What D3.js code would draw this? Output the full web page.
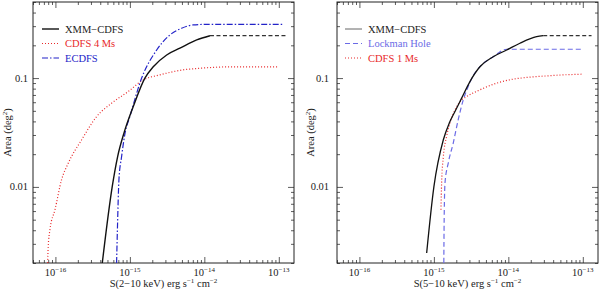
<!DOCTYPE html>
<html>
<head>
<meta charset="utf-8">
<script src="https://cdn.jsdelivr.net/npm/d3@7"></script>
<style>
  body { margin: 0; background: #fff; }
  svg { display: block; }
  text { font-family: 'Liberation Serif', serif; fill: #222; }
</style>
</head>
<body>
<div id="chart"></div>
<script>
// --- left panel: 2-10 keV ---
let xmmHardFlux = [4.26e-16, 5.8e-16, 6.85e-16, 8.3e-16, 1.11e-15, 1.59e-15, 2.06e-15, 3.12e-15, 4.7e-15, 7.9e-15, 1.19e-14];
let xmmHardArea = [0.002, 0.0101, 0.019, 0.031, 0.0547, 0.1, 0.127, 0.163, 0.188, 0.224, 0.245];
let xmmHardExtFlux = [1.19e-14, 1.32e-13];
let xmmHardExtArea = [0.245, 0.245];

let cdfs4Flux = [7.87e-17, 8.0e-17, 8.45e-17, 9.87e-17, 1.21e-16, 1.49e-16, 2.25e-16, 3.58e-16, 5.7e-16, 9.5e-16, 1.51e-15, 2.54e-15, 5.2e-15, 8.7e-15, 2.42e-14, 9.8e-14];
let cdfs4Area = [0.002, 0.00284, 0.00405, 0.00618, 0.01164, 0.01656, 0.0271, 0.0443, 0.0589, 0.0752, 0.0962, 0.107, 0.119, 0.123, 0.127, 0.127];

let ecdfsFlux = [6.63e-16, 6.8e-16, 7.13e-16, 7.74e-16, 8.6e-16, 1.0e-15, 1.44e-15, 2.29e-15, 3.45e-15, 4.95e-15, 7.1e-15, 1.19e-14, 1.13e-13];
let ecdfsArea = [0.002, 0.00405, 0.01164, 0.019, 0.031, 0.0443, 0.1, 0.181, 0.249, 0.287, 0.308, 0.312, 0.312];

// --- right panel: 5-10 keV ---
let xmmSoftFlux = [8.0e-16, 1.0e-15, 1.34e-15, 1.61e-15, 1.92e-15, 2.36e-15, 3.05e-15, 4.15e-15, 6.26e-15, 9.5e-15, 1.43e-14, 2.4e-14, 2.94e-14];
let xmmSoftArea = [0.00247, 0.01, 0.0271, 0.0386, 0.0493, 0.0654, 0.0929, 0.127, 0.157, 0.181, 0.209, 0.240, 0.245];
let xmmSoftExtFlux = [2.94e-14, 1.31e-13];
let xmmSoftExtArea = [0.245, 0.245];

let lockmanFlux = [1.36e-15, 1.37e-15, 1.41e-15, 1.56e-15, 1.82e-15, 2.12e-15, 2.48e-15, 2.89e-15, 3.24e-15, 4.15e-15, 6.26e-15, 9.5e-15, 1.01e-13];
let lockmanArea = [0.002, 0.00405, 0.01086, 0.01656, 0.0253, 0.0413, 0.063, 0.0836, 0.1, 0.127, 0.157, 0.184, 0.184];

let cdfs1Flux = [1.245e-15, 1.27e-15, 1.34e-15, 1.48e-15, 1.64e-15, 1.92e-15, 2.36e-15, 2.75e-15, 4.15e-15, 6.97e-15, 1.16e-14, 1.95e-14, 3.27e-14, 5.46e-14, 1.01e-13];
let cdfs1Area = [0.00618, 0.01086, 0.019, 0.029, 0.0386, 0.051, 0.063, 0.0676, 0.078, 0.0898, 0.0977, 0.102, 0.1047, 0.107, 0.1086];

// axes
let fluxDomain = [5e-17, 1.6e-13];
let areaDomain = [0.002, 0.5];
let fluxMajor = [1e-16, 1e-15, 1e-14, 1e-13];
let fluxMajorExp = ['−16', '−15', '−14', '−13'];
let areaMajor = [0.01, 0.1];
let areaLabels = ['0.01', '0.1'];

let svg = d3.select('#chart')
  .append('svg')
  .attr('width', 600)
  .attr('height', 289);

function minorTicks(domain) {
  let out = [];
  for (let e = -18; e <= 1; e++) {
    for (let m = 2; m <= 9; m++) {
      let v = m * Math.pow(10, e);
      if (v >= domain[0] * 0.999 && v <= domain[1] * 1.001) out.push(v);
    }
  }
  return out;
}

function createPanel(opts) {
  let left = opts.left, top = 2,
    width = 261, height = 261;

  let g = svg.append('g')
    .attr('transform', `translate(${left}, ${top})`);

  let x = d3.scaleLog().domain(fluxDomain).range([0, width]);
  let y = d3.scaleLog().domain(areaDomain).range([height, 0]);

  let xMinor = minorTicks(fluxDomain);
  let yMinor = minorTicks(areaDomain);

  // ticks on all four sides, pointing inward
  let sides = [
    [d3.axisBottom(x), `translate(0,${height})`, xMinor, fluxMajor],
    [d3.axisTop(x), 'translate(0,0)', xMinor, fluxMajor],
    [d3.axisLeft(y), 'translate(0,0)', yMinor, areaMajor],
    [d3.axisRight(y), `translate(${width},0)`, yMinor, areaMajor]
  ];
  sides.forEach(([ax, tr, minor, major]) => {
    g.append('g').attr('transform', tr)
      .call(ax.tickValues(minor).tickSize(-3).tickFormat(''))
      .call(s => s.select('.domain').remove());
    g.append('g').attr('transform', tr)
      .call(ax.tickValues(major).tickSize(-6).tickFormat(''))
      .call(s => s.select('.domain').remove());
  });
  g.selectAll('.tick line').attr('stroke', '#333').attr('stroke-width', 0.8);

  g.append('rect')
    .attr('width', width)
    .attr('height', height)
    .attr('fill', 'none')
    .attr('stroke', '#222')
    .attr('stroke-width', 1);

  // x tick labels
  let xl = g.selectAll('.xlab')
    .data(fluxMajor)
    .enter()
    .append('text')
    .attr('class', 'xlab')
    .attr('x', d => x(d))
    .attr('y', height + 13)
    .attr('text-anchor', 'middle')
    .style('font-size', '10.5px');
  xl.append('tspan').text('10');
  xl.append('tspan')
    .text((d, i) => fluxMajorExp[i])
    .attr('dy', -4)
    .style('font-size', '7px');

  // y tick labels
  g.selectAll('.ylab')
    .data(areaMajor)
    .enter()
    .append('text')
    .attr('x', opts.yLabelGap)
    .attr('y', d => y(d) + 3.5)
    .attr('text-anchor', 'end')
    .style('font-size', '10.5px')
    .text((d, i) => areaLabels[i]);

  // axis titles
  let xt = g.append('text')
    .attr('x', width / 2)
    .attr('y', height + 24)
    .attr('text-anchor', 'middle')
    .style('font-size', '10.5px');
  xt.append('tspan').text(opts.xTitle + ' erg s');
  xt.append('tspan').text('−1').attr('dy', -4).style('font-size', '7px');
  xt.append('tspan').text(' cm').attr('dy', 4);
  xt.append('tspan').text('−2').attr('dy', -4).style('font-size', '7px');

  let yt = g.append('text')
    .attr('transform', `translate(${opts.yTitleX}, ${height / 2}) rotate(-90)`)
    .attr('text-anchor', 'middle')
    .style('font-size', '10.5px');
  yt.append('tspan').text('Area (deg');
  yt.append('tspan').text('2').attr('dy', -4).style('font-size', '7px');
  yt.append('tspan').text(')').attr('dy', 4);

  let line = d3.line().x(d => x(d[0])).y(d => y(d[1])).curve(d3.curveMonotoneX);

  let clip = 'clip' + left;
  g.append('clipPath').attr('id', clip)
    .append('rect').attr('width', width).attr('height', height);

  let curves = g.append('g').attr('clip-path', `url(#${clip})`);
  opts.series.forEach(s => {
    curves.append('path')
      .datum(d3.zip(s.flux, s.area))
      .attr('d', line)
      .attr('fill', 'none')
      .attr('stroke', s.color)
      .attr('stroke-width', s.width || 1.2)
      .attr('stroke-dasharray', s.dash || null);
  });

  // legend
  opts.legend.forEach((l, i) => {
    let ly = 27 + i * 14.5;
    g.append('line')
      .attr('x1', opts.legendX)
      .attr('x2', opts.legendX + 17)
      .attr('y1', ly)
      .attr('y2', ly)
      .attr('stroke', l.color)
      .attr('stroke-width', l.width || 1.2)
      .attr('stroke-dasharray', l.dash || null);
    g.append('text')
      .attr('x', opts.legendX + 23)
      .attr('y', ly + 3.5)
      .style('font-size', '10.5px')
      .style('fill', l.textColor)
      .text(l.name);
  });
}

let red = '#e8282a', blue = '#2323c8', lblue = '#6b6be6';

createPanel({
  left: 33,
  yLabelGap: -5,
  yTitleX: -22,
  legendX: 9,
  xTitle: 'S(2−10 keV)',
  series: [
    { flux: cdfs4Flux, area: cdfs4Area, color: red, dash: '1 2' },
    { flux: ecdfsFlux, area: ecdfsArea, color: blue, dash: '6 2 1.5 2' },
    { flux: xmmHardFlux, area: xmmHardArea, color: '#111', width: 1.4 },
    { flux: xmmHardExtFlux, area: xmmHardExtArea, color: '#333', dash: '4 2.5' }
  ],
  legend: [
    { name: 'XMM−CDFS', color: '#111', textColor: '#222', width: 1.4 },
    { name: 'CDFS 4 Ms', color: red, textColor: red, dash: '1 2' },
    { name: 'ECDFS', color: blue, textColor: blue, dash: '6 2 1.5 2' }
  ]
});

createPanel({
  left: 337,
  yLabelGap: -8,
  yTitleX: -23,
  legendX: 8,
  xTitle: 'S(5−10 keV)',
  series: [
    { flux: lockmanFlux, area: lockmanArea, color: lblue, dash: '5 3' },
    { flux: cdfs1Flux, area: cdfs1Area, color: red, dash: '1 2' },
    { flux: xmmSoftFlux, area: xmmSoftArea, color: '#111', width: 1.3 },
    { flux: xmmSoftExtFlux, area: xmmSoftExtArea, color: '#333', dash: '4 2.5' }
  ],
  legend: [
    { name: 'XMM−CDFS', color: '#666', textColor: '#222', width: 1 },
    { name: 'Lockman Hole', color: lblue, textColor: lblue, dash: '5 3' },
    { name: 'CDFS 1 Ms', color: red, textColor: red, dash: '1 2' }
  ]
});
</script>
</body>
</html>
